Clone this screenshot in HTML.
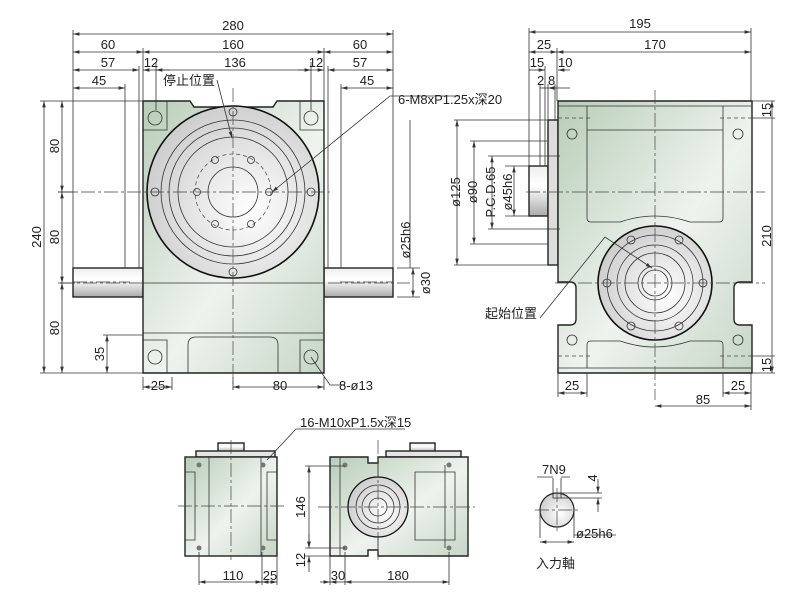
<!DOCTYPE html>
<html><head><meta charset="utf-8"><style>
html,body{margin:0;padding:0;background:#fff}
svg{display:block}
text{font-family:"Liberation Sans","Noto Sans CJK SC",sans-serif;fill:#222;font-size:13px}
.l{stroke:#333;stroke-width:.8;fill:none}
.b{stroke:#222;stroke-width:1.4}
.c{stroke:#444;stroke-width:.7;stroke-dasharray:14 3 3 3;fill:none}
.d{stroke:#444;stroke-width:.7;stroke-dasharray:4 3;fill:none}
</style></head><body>
<svg width="800" height="609" viewBox="0 0 800 609" xmlns="http://www.w3.org/2000/svg">
<defs>
<linearGradient id="g" x1="0" y1="0" x2="1" y2="1">
<stop offset="0" stop-color="#b8cdb8"/><stop offset=".55" stop-color="#eef3ee"/><stop offset="1" stop-color="#c6d6c6"/></linearGradient>
<radialGradient id="s" cx=".6" cy=".6" r=".7"><stop offset="0" stop-color="#fff"/><stop offset="1" stop-color="#c8c8c8"/></radialGradient>
<linearGradient id="sh" x1="0" y1="0" x2="0" y2="1"><stop offset="0" stop-color="#eee"/><stop offset=".4" stop-color="#fff"/><stop offset="1" stop-color="#aaa"/></linearGradient>
<marker id="a" markerWidth="8" markerHeight="6" refX="8" refY="3" orient="auto-start-reverse"><path d="M0,0.8 L8,3 L0,5.2z" fill="#333"/></marker>
</defs>

<!-- ===== FRONT VIEW ===== -->
<rect x="73" y="268" width="70" height="29" fill="url(#sh)" class="b"/>
<rect x="324" y="268" width="69" height="29" fill="url(#sh)" class="b"/>
<path d="M143,101 H190 L194,107 H273 L277,101 H324 V373 H143 Z" fill="url(#g)" class="b"/>
<path class="l" d="M143,283 H324 M143,333 H324 M188,373 V345 q0,-8 8,-8 H270 q8,0 8,8 V373 M167,101 V130 H143 M300,101 V130 H324 M167,373 V340 H143 M300,373 V340 H324"/>
<circle cx="233" cy="192" r="86" fill="url(#s)" stroke="#111" stroke-width="1.6"/>
<g class="l"><circle cx="233" cy="192" r="72"/><circle cx="233" cy="192" r="64"/><circle cx="233" cy="192" r="55"/><circle cx="233" cy="192" r="25"/></g>
<circle cx="233" cy="192" r="38" class="d"/>
<g class="l">
<circle cx="233" cy="112" r="4"/><circle cx="233" cy="272" r="4"/><circle cx="155" cy="192" r="4"/><circle cx="311" cy="192" r="4"/>
<circle cx="197" cy="192" r="3.5"/><circle cx="269" cy="192" r="3.5"/><circle cx="215" cy="160" r="3.5"/><circle cx="251" cy="160" r="3.5"/><circle cx="215" cy="224" r="3.5"/><circle cx="251" cy="224" r="3.5"/>
<circle cx="155" cy="118" r="7"/><circle cx="311" cy="118" r="7"/><circle cx="155" cy="357" r="7"/><circle cx="311" cy="357" r="7"/>
</g>
<path class="c" d="M58,192 H330 M233,88 V390 M60,283 H143 M328,283 H410 M73,282 H130 M340,282 H393"/>
<!-- dims front -->
<g class="l">
<path d="M73,30 V268 M393,30 V268 M143,48 V101 M324,48 V101 M139,66 V268 M328,66 V268 M125,84 V268 M341,84 V268 M156,62 V110 M311,62 V110"/>
<path d="M40,101 H143 M40,373 H143 M58,192 H75 M58,283 H75 M103,335 H143 M143,377 V390 M172,377 V390 M233,377 V390 M324,377 V390"/>
<path d="M73,34 H393" marker-start="url(#a)" marker-end="url(#a)"/>
<path d="M73,52 H143" marker-start="url(#a)" marker-end="url(#a)"/>
<path d="M143,52 H324" marker-start="url(#a)" marker-end="url(#a)"/>
<path d="M324,52 H393" marker-start="url(#a)" marker-end="url(#a)"/>
<path d="M73,70 H139" marker-start="url(#a)" marker-end="url(#a)"/>
<path d="M143,70 H170" marker-start="url(#a)"/>
<path d="M156,70 H311" marker-start="url(#a)" marker-end="url(#a)"/>
<path d="M298,70 H324" marker-end="url(#a)"/>
<path d="M328,70 H393" marker-start="url(#a)" marker-end="url(#a)"/>
<path d="M73,88 H125" marker-start="url(#a)" marker-end="url(#a)"/>
<path d="M341,88 H393" marker-start="url(#a)" marker-end="url(#a)"/>
<path d="M44,101 V373" marker-start="url(#a)" marker-end="url(#a)"/>
<path d="M62,101 V192" marker-start="url(#a)" marker-end="url(#a)"/>
<path d="M62,192 V283" marker-start="url(#a)" marker-end="url(#a)"/>
<path d="M62,283 V373" marker-start="url(#a)" marker-end="url(#a)"/>
<path d="M107,335 V373" marker-start="url(#a)" marker-end="url(#a)"/>
<path d="M143,387 H172" marker-start="url(#a)" marker-end="url(#a)"/>
<path d="M233,387 H324" marker-start="url(#a)" marker-end="url(#a)"/>
<path d="M397,268 H420 M397,297 H420"/>
<path d="M413,268 V297" marker-start="url(#a)" marker-end="url(#a)"/>
<path d="M410,120 V268" />
<path d="M217,80 L232,138" marker-end="url(#a)"/>
<path d="M460,96 H390 L272,192" marker-end="url(#a)"/>
<path d="M311,357 L330,385 H345"/>
</g>
<text x="233" y="30" text-anchor="middle">280</text>
<text x="108" y="49" text-anchor="middle">60</text><text x="233" y="49" text-anchor="middle">160</text><text x="360" y="49" text-anchor="middle">60</text>
<text x="108" y="67" text-anchor="middle">57</text><text x="151" y="67" text-anchor="middle">12</text><text x="235" y="67" text-anchor="middle">136</text><text x="316" y="67" text-anchor="middle">12</text><text x="360" y="67" text-anchor="middle">57</text>
<text x="99" y="85" text-anchor="middle">45</text><text x="367" y="85" text-anchor="middle">45</text>
<text x="163" y="85">停止位置</text>
<text x="398" y="104">6-M8xP1.25x深20</text>
<text transform="translate(41,237) rotate(-90)" text-anchor="middle">240</text>
<text transform="translate(59,146) rotate(-90)" text-anchor="middle">80</text>
<text transform="translate(59,237) rotate(-90)" text-anchor="middle">80</text>
<text transform="translate(59,328) rotate(-90)" text-anchor="middle">80</text>
<text transform="translate(104,354) rotate(-90)" text-anchor="middle">35</text>
<text transform="translate(410,240) rotate(-90)" text-anchor="middle">ø25h6</text>
<text transform="translate(430,283) rotate(-90)" text-anchor="middle">ø30</text>
<text x="158" y="390" text-anchor="middle">25</text><text x="280" y="390" text-anchor="middle">80</text><text x="339" y="390">8-ø13</text>

<!-- ===== SIDE VIEW ===== -->
<rect x="529" y="166" width="19" height="50" fill="url(#sh)" class="b"/>
<rect x="548" y="120" width="10" height="145" fill="#ddd" class="b"/>
<path d="M558,101 H752 V282 H740 q-6,0 -6,6 V319 q0,6 6,6 H752 V373 H558 V325 H570 q6,0 6,-6 V288 q0,-6 -6,-6 H558 Z" fill="url(#g)" class="b"/>
<path class="l" d="M587,106 V130 H723 V106 M587,130 V218 q0,4 4,4 H620 q35,-12 70,0 H719 q4,0 4,-4 V130 M587,368 V345 q0,-4 4,-4 H620 q35,12 70,0 H719 q4,0 4,4 V368 M558,106 H752 M558,368 H752"/>
<path class="d" d="M558,118 H590 M720,118 H752 M558,356 H590 M720,356 H752"/>
<g class="l"><circle cx="572" cy="134" r="5"/><circle cx="738" cy="134" r="5"/><circle cx="572" cy="340" r="5"/><circle cx="738" cy="340" r="5"/></g>
<circle cx="655" cy="283" r="57" fill="url(#s)" stroke="#111" stroke-width="1.6"/>
<g class="l"><circle cx="655" cy="283" r="48"/><circle cx="655" cy="283" r="38"/><circle cx="655" cy="283" r="30"/><circle cx="655" cy="283" r="17"/><circle cx="655" cy="283" r="13"/>
<circle cx="607" cy="283" r="4"/><circle cx="703" cy="283" r="4"/><circle cx="631" cy="240" r="4"/><circle cx="679" cy="240" r="4"/><circle cx="631" cy="326" r="4"/><circle cx="679" cy="326" r="4"/></g>
<path class="c" d="M526,192 H765 M655,90 V400 M555,283 H765"/>
<g class="l">
<path d="M529,28 V166 M751,28 V101 M557,48 V101 M545,66 V166 M548,84 V120 M540,84 V166 M555,84 V120"/>
<path d="M529,32 H751" marker-start="url(#a)" marker-end="url(#a)"/>
<path d="M529,52 H557" marker-start="url(#a)" marker-end="url(#a)"/>
<path d="M557,52 H751" marker-start="url(#a)" marker-end="url(#a)"/>
<path d="M529,70 H545" marker-end="url(#a)"/><path d="M558,70 H570" marker-start="url(#a)"/>
<path d="M540,88 H548"/><path d="M548,88 H570" marker-start="url(#a)"/>
<path d="M454,120 H548 M470,141 H548 M488,156 H560 M505,166 H529 M454,265 H548 M470,244 H548 M488,229 H560 M505,216 H529"/>
<path d="M457,120 V265" marker-start="url(#a)" marker-end="url(#a)"/>
<path d="M474,141 V244" marker-start="url(#a)" marker-end="url(#a)"/>
<path d="M492,156 V229" marker-start="url(#a)" marker-end="url(#a)"/>
<path d="M514,166 V216" marker-start="url(#a)" marker-end="url(#a)"/>
<path d="M752,101 H775 M752,118 H775 M752,356 H775 M752,373 H775"/>
<path d="M772,101 V373" marker-start="url(#a)" marker-end="url(#a)"/>
<path d="M558,373 V397 M587,373 V397 M723,373 V397 M751,373 V410"/>
<path d="M558,393 H587" marker-start="url(#a)" marker-end="url(#a)"/>
<path d="M723,393 H751" marker-start="url(#a)" marker-end="url(#a)"/>
<path d="M655,406 H751" marker-start="url(#a)" marker-end="url(#a)"/>
<path d="M540,318 L605,237 L652,268" marker-end="url(#a)"/>
</g>
<text x="640" y="28" text-anchor="middle">195</text>
<text x="544" y="49" text-anchor="middle">25</text><text x="655" y="49" text-anchor="middle">170</text>
<text x="537" y="67" text-anchor="middle">15</text><text x="558" y="67">10</text>
<text x="537" y="85">2</text><text x="548" y="85">8</text>
<text transform="translate(460,192) rotate(-90)" text-anchor="middle">ø125</text>
<text transform="translate(477,192) rotate(-90)" text-anchor="middle">ø90</text>
<text transform="translate(495,192) rotate(-90)" text-anchor="middle">P.C.D.65</text>
<text transform="translate(512,192) rotate(-90)" text-anchor="middle">ø45h6</text>
<text transform="translate(771,110) rotate(-90)" text-anchor="middle">15</text>
<text transform="translate(771,236) rotate(-90)" text-anchor="middle">210</text>
<text transform="translate(771,365) rotate(-90)" text-anchor="middle">15</text>
<text x="485" y="318">起始位置</text>
<text x="572" y="390" text-anchor="middle">25</text><text x="738" y="390" text-anchor="middle">25</text><text x="703" y="404" text-anchor="middle">85</text>

<!-- ===== BOTTOM LEFT ===== -->
<rect x="218" y="443" width="26" height="9" fill="url(#sh)" class="b"/>
<rect x="196" y="451" width="79" height="6" fill="#e5e5e5" class="b"/>
<rect x="185" y="457" width="92" height="99" fill="url(#g)" class="b"/>
<path class="l" d="M209,457 V556 M261,457 V556 M185,472 H195 V540 H185 M277,472 H267 V540 H277"/>
<g fill="#777"><circle cx="199" cy="465" r="2.5"/><circle cx="263" cy="465" r="2.5"/><circle cx="199" cy="548" r="2.5"/><circle cx="263" cy="548" r="2.5"/></g>
<path class="c" d="M178,506 H285 M231,440 V560"/>
<g class="l"><path d="M199,552 V585 M262,552 V585 M277,556 V585"/>
<path d="M199,582 H262" marker-start="url(#a)" marker-end="url(#a)"/>
<path d="M262,582 H277" marker-start="url(#a)" marker-end="url(#a)"/>
<path d="M405,429 H296 L267,460"/></g>
<text x="300" y="427">16-M10xP1.5x深15</text>
<text x="233" y="580" text-anchor="middle">110</text><text x="270" y="580" text-anchor="middle">25</text>

<!-- ===== BOTTOM MIDDLE ===== -->
<rect x="410" y="443" width="25" height="9" fill="url(#sh)" class="b"/>
<rect x="386" y="451" width="75" height="6" fill="#e5e5e5" class="b"/>
<path d="M330,457 H368 V463 H378 V457 H468 V556 H378 V550 H368 V556 H330 Z" fill="url(#g)" class="b"/>
<path class="l" d="M378,457 V556 M340,457 V556 M445,465 V548 M415,472 H455 V540 H415 Z"/>
<circle cx="378" cy="507" r="30" fill="url(#s)" stroke="#111" stroke-width="1.3"/>
<g class="l"><circle cx="378" cy="507" r="22"/><circle cx="378" cy="507" r="16"/><circle cx="378" cy="507" r="9"/></g>
<g fill="#777"><circle cx="345" cy="465" r="2.5"/><circle cx="449" cy="465" r="2.5"/><circle cx="345" cy="548" r="2.5"/><circle cx="449" cy="548" r="2.5"/></g>
<path class="c" d="M318,507 H475 M378,440 V560"/>
<g class="l"><path d="M305,466 H345 M305,548 H345 M305,556 H330 M330,556 V585 M345,552 V585 M449,552 V585"/>
<path d="M309,466 V548" marker-start="url(#a)" marker-end="url(#a)"/>
<path d="M309,534 V548" marker-end="url(#a)"/><path d="M309,556 V572" marker-start="url(#a)"/>
<path d="M320,582 H330" marker-end="url(#a)"/><path d="M330,582 H345" marker-start="url(#a)"/>
<path d="M345,582 H449" marker-start="url(#a)" marker-end="url(#a)"/></g>
<text transform="translate(305,507) rotate(-90)" text-anchor="middle">146</text>
<text transform="translate(305,560) rotate(-90)" text-anchor="middle">12</text>
<text x="338" y="580" text-anchor="middle">30</text><text x="398" y="580" text-anchor="middle">180</text>

<!-- ===== INPUT SHAFT ===== -->
<circle cx="557" cy="510" r="17" fill="url(#s)" stroke="#222" stroke-width="1.2"/>
<rect x="553" y="493" width="8" height="5" fill="#fff" class="l"/>
<path class="c" d="M535,510 H580 M557,488 V532"/>
<g class="l"><path d="M553,478 V495 M561,478 V495 M537,477 H553 M561,477 H570 M561,493 H602 M561,498 H602 M540,513 V538 M574,513 V538 M574,535 H616"/>
<path d="M598,479 V493" marker-end="url(#a)"/><path d="M598,498 V512" marker-start="url(#a)"/>
<path d="M540,542 H574" marker-start="url(#a)" marker-end="url(#a)"/></g>
<text x="542" y="474">7N9</text>
<text transform="translate(597,478) rotate(-90)" text-anchor="middle">4</text>
<text x="576" y="538">ø25h6</text>
<text x="536" y="568">入力軸</text>
</svg>
</body></html>
